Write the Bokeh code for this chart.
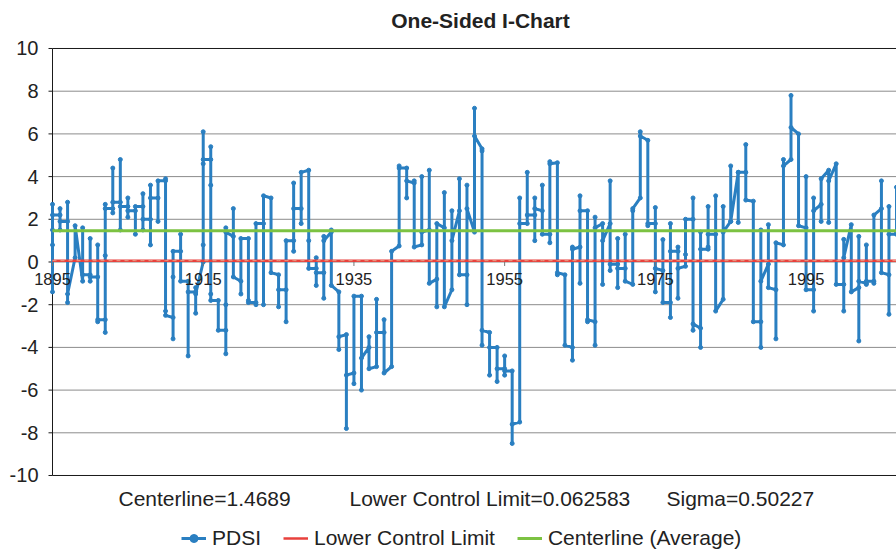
import math
from bokeh.plotting import figure
from bokeh.models import Range1d, FixedTicker, Label, LabelSet, Legend, LegendItem, ColumnDataSource
from bokeh.core.properties import value
from bokeh.embed import file_html
from bokeh.resources import INLINE

# ---- data ----
years = list(range(1895, 2008))
pdsi_by_year = [
    [1.5, 2.7, -1.4, 0.8, 2.2],   # 1895
    [2.2, 2.5, 1.5, 1.9],         # 1896
    [1.9, 2.8, -1.9, -1.5],       # 1897
    [0.2, 1.7],                   # 1898
    [-0.9, 1.6, -0.6],            # 1899
    [-0.6, 1.1, -0.9, -0.7],      # 1900
    [-0.7, 0.8, -2.8, -2.7],      # 1901
    [-2.7, -3.3, 0.3, 2.7, 2.5],  # 1902
    [2.5, 4.4, 2.3, 2.8],         # 1903
    [2.8, 4.8, 1.5, 2.6],         # 1904
    [2.6, 3.0, 2.1, 2.4],         # 1905
    [2.4, 1.3, 2.6],              # 1906
    [2.6, 3.2, 1.5, 2.0],         # 1907
    [2.0, 3.6, 0.8, 3.0],         # 1908
    [3.0, 1.9, 3.8],              # 1909
    [3.8, 3.9, -2.3, -2.5],       # 1910
    [-2.6, -3.6, -0.7, 0.5],      # 1911
    [0.5, 1.3, -0.9],             # 1912
    [-0.9, -4.4, -1.4],           # 1913
    [-1.4, -2.4, -1.2, -1.5],     # 1914
    [0.0, 0.8, 4.6, 6.1, 4.8],    # 1915
    [4.8, 5.4, 3.6, -1.5, -1.8],  # 1916
    [-1.8, -3.2],                 # 1917
    [-3.2, -4.3, -2.0, 1.6, 1.4], # 1918
    [1.2, 2.5, -0.7],             # 1919
    [-0.9, -1.5, 1.1],            # 1920
    [1.1, -1.8, -1.9],            # 1921
    [-1.9, -2.0, 1.8],            # 1922
    [1.8, -2.0, 3.1],             # 1923
    [3.0, -0.5],                  # 1924
    [-0.6, -2.1, -1.3],           # 1925
    [-1.3, -2.8, 1.0],            # 1926
    [1.0, 0.5, 3.7, 2.5],         # 1927
    [2.5, 1.8, 4.2],              # 1928
    [4.3, 1.0, -0.3],             # 1929
    [-0.3, 0.2, -1.1, -0.5],      # 1930
    [-0.5, -1.7, 1.2, 1.0],       # 1931
    [1.4, 1.5, -1.1],             # 1932
    [-1.4, -4.1, -3.5],           # 1933
    [-3.4, -7.8, -5.3],           # 1934
    [-5.2, -5.7, -1.6],           # 1935
    [-1.6, -6.0, -4.5],           # 1936
    [-4.0, -3.5, -5.0],           # 1937
    [-4.9, -1.75, -3.3],          # 1938
    [-3.3, -2.7, -5.2],           # 1939
    [-4.9, 0.5],                  # 1940
    [0.75, 4.5, 4.4],             # 1941
    [4.4, 3.0, 3.8],              # 1942
    [3.7, 3.8, 0.7],              # 1943
    [0.8, 4.0, 1.4],              # 1944
    [1.5, 4.3, -1.0],             # 1945
    [-0.8, -2.1, 1.8],            # 1946
    [1.6, 3.25, -2.1],            # 1947
    [-1.3, 2.4, 1.0],             # 1948
    [2.4, 3.9, -0.6],             # 1949
    [-0.6, -2.0, 3.6, 2.5],       # 1950
    [1.4, 7.2, 5.9],              # 1951
    [5.3, 5.2, -3.9, -3.2],       # 1952
    [-3.3, -5.3, -4.0],           # 1953
    [-4.0, -5.6, -5.0],           # 1954
    [-5.0, -4.4, -5.3, -5.1],     # 1955
    [-5.1, -8.5, -7.6],           # 1956
    [-7.5, 3.0, 1.8],             # 1957
    [1.8, 4.2, 2.2],              # 1958
    [2.2, 1.0, 3.0, 2.5],         # 1959
    [2.4, 3.6, 1.3],              # 1960
    [1.3, 0.9, 4.7, 4.6],         # 1961
    [4.65, -0.6, -0.5],           # 1962
    [-0.6, -3.9],                 # 1963
    [-4.0, -4.6, 0.7, 0.6],       # 1964
    [0.7, -1.0, 3.1, 2.4],        # 1965
    [2.4, -2.8, -2.7],            # 1966
    [-2.8, -3.9, 2.1, 1.6],       # 1967
    [1.8, -1.05, 1.0],            # 1968
    [1.8, 3.8, -0.4, -0.1],       # 1969
    [-0.1, 1.1, -1.2, -0.3],      # 1970
    [-0.3, 1.3, -0.9],            # 1971
    [-1.05, 2.4, 2.5],            # 1972
    [3.0, 6.1, 5.9],              # 1973
    [5.7, 1.7, 1.8],              # 1974
    [1.8, 2.55, -1.4, -0.3],      # 1975
    [-0.4, 1.05, -1.9],           # 1976
    [-1.9, -2.6, 1.8, 0.5],       # 1977
    [0.5, 0.7, -1.7, -0.3],       # 1978
    [-0.2, 0.35, 2.0],            # 1979
    [2.0, 3.0, -3.2, -2.9],       # 1980
    [-3.1, -4.0, 1.4, 0.6],       # 1981
    [0.6, 0.7, 2.6, 1.3],         # 1982
    [1.3, 3.1, -2.3],             # 1983
    [-1.75, 2.6, 1.4],            # 1984
    [1.9, 4.5, 1.9],              # 1985
    [4.2, 1.85, 4.2],             # 1986
    [4.2, 5.5, 2.9],              # 1987
    [2.85, -2.8],                 # 1988
    [-2.8, -4.0, 1.5, -0.9],      # 1989
    [-0.1, 1.75, -1.2],           # 1990
    [-1.3, -3.6, 0.9],            # 1991
    [0.8, 4.8, 4.5],              # 1992
    [4.8, 7.8, 6.3],              # 1993
    [6.0, 1.7],                   # 1994
    [1.6, 4.0, -1.3],             # 1995
    [-1.3, -2.3, 3.0, 2.4],       # 1996
    [2.7, 1.9, 3.9],              # 1997
    [4.3, 1.85, 3.8],             # 1998
    [4.6, -1.05],                 # 1999
    [-1.05, -2.3, 1.06, 0.2],     # 2000
    [1.75, -1.4],                 # 2001
    [-1.2, -3.7, 1.2, -0.9],      # 2002
    [-1.0, 0.8, -1.05, -0.9],     # 2003
    [-0.9, -1.0, 2.2],            # 2004
    [2.5, 3.8, -0.5],             # 2005
    [-0.6, -2.45, 2.6, 1.3],      # 2006
    [1.3, 3.5, 1.4],              # 2007
]
tick_years = [1895, 1915, 1935, 1955, 1975, 1995]
tick_labels = ["1895", "1915", "1935", "1955", "1975", "1995"]
y_ticks = [-10, -8, -6, -4, -2, 0, 2, 4, 6, 8, 10]
centerline = 1.4689
lcl = 0.062583
sigma = 0.50227

FONT = "Liberation Sans"
BLUE = "#2a7fc1"
RED = "#e8413c"
GREEN = "#7cc242"
TXT = "#222222"

xs, ys = [], []
for yr, vals in zip(years, pdsi_by_year):
    xs += [yr] * len(vals)
    ys += vals

# frame covers the canvas above/below the value area so that title, note and legend are inside it
p = figure(width=896, height=550, output_backend="svg", toolbar_location=None,
           x_range=Range1d(1891.815, 2007.0), y_range=Range1d(-13.513, 12.248),
           x_axis_location=None,
           min_border_left=28, min_border_right=0, min_border_top=0, min_border_bottom=0)
p.outline_line_color = None
p.background_fill_color = "white"
p.border_fill_color = "white"

# y axis (labels from Bokeh's axis; axis line drawn at the first year)
ax = p.yaxis[0]
ax.ticker = FixedTicker(ticks=y_ticks)
ax.bounds = (y_ticks[0], y_ticks[-1])
ax.major_label_overrides = {t: str(t) for t in y_ticks}
ax.major_label_text_font_size = "20px"
ax.major_label_text_font = FONT
ax.major_label_text_color = TXT
ax.axis_line_color = None
ax.major_tick_line_color = None
ax.minor_tick_line_color = None
ax.major_tick_in = 0
ax.major_tick_out = 0
ax.major_label_standoff = -10
p.ygrid.visible = False
p.xgrid.visible = False

# horizontal grid lines, from the axis to the right edge
x_end = p.x_range.end
grid_y = y_ticks[1:-1]
p.segment(x0=[years[0]] * len(grid_y), y0=grid_y, x1=[x_end] * len(grid_y), y1=grid_y,
          line_color="#8c8c8c", line_width=1)
p.segment(x0=[years[0]] * 2, y0=[y_ticks[0], y_ticks[-1]], x1=[x_end] * 2, y1=[y_ticks[0], y_ticks[-1]],
          line_color="#1a1a1a", line_width=1)
# axis line and outward ticks
p.segment(x0=[years[0]], y0=[y_ticks[0]], x1=[years[0]], y1=[y_ticks[-1]], line_color="#1a1a1a", line_width=1)
p.ray(x=[years[0]] * len(y_ticks), y=y_ticks, length=4, length_units="screen", angle=math.pi,
      line_color="#1a1a1a", line_width=1)

# series
r_line = p.line(xs, ys, line_color=BLUE, line_width=3)
r_pts = p.scatter(xs, ys, size=4, color=BLUE)
r_lcl = p.line(years, [lcl] * len(years), line_color=RED, line_width=2.5)
p.line(years, [lcl] * len(years), line_color="#e9a088", line_width=1, line_dash="4 4")
r_cl = p.line(years, [centerline] * len(years), line_color=GREEN, line_width=3)

# year labels on the zero line
p.ray(x=tick_years, y=[0] * len(tick_years), length=4, length_units="screen", angle=-math.pi / 2,
      line_color="#777777", line_width=1)
src = ColumnDataSource(dict(x=tick_years, y=[0] * len(tick_years), t=tick_labels))
p.add_layout(LabelSet(x="x", y="y", text="t", source=src, y_offset=-17,
                      text_align="center", text_baseline="middle",
                      text_font=value(FONT), text_font_size=value("16.5px"), text_color=value(TXT)))

# title
p.add_layout(Label(x=years[0], y=y_ticks[-1], x_offset=428, y_offset=28, text="One-Sided I-Chart",
                   text_align="center", text_baseline="middle", text_font=FONT,
                   text_font_size="21px", text_font_style="bold", text_color=TXT))

# note line
for txt, xo in [(f"Centerline={centerline}", 66),
                (f"Lower Control Limit={lcl}", 297),
                (f"Sigma={sigma}", 614)]:
    p.add_layout(Label(x=years[0], y=y_ticks[0], x_offset=xo, y_offset=-23, text=txt,
                       text_align="left", text_baseline="middle", text_font=FONT,
                       text_font_size="21px", text_color=TXT))

legend = Legend(items=[LegendItem(label="PDSI", renderers=[r_line, r_pts]),
                       LegendItem(label="Lower Control Limit", renderers=[r_lcl]),
                       LegendItem(label="Centerline (Average)", renderers=[r_cl])],
                orientation="horizontal", location=(153, 0),
                border_line_color=None, background_fill_alpha=0,
                padding=2, spacing=22, label_standoff=6, glyph_width=25, glyph_height=20,
                label_height=20, margin=0,
                label_text_font=FONT, label_text_font_size="21px", label_text_color=TXT)
p.add_layout(legend)

open("out.html", "w").write(file_html(p, INLINE))
